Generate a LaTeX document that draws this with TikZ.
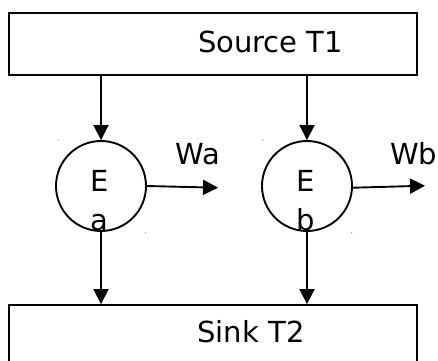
\documentclass[tikz,border=0pt]{standalone}
\usepackage{fontspec}
\setmainfont{DejaVu Sans}
\usetikzlibrary{arrows.meta}
\begin{document}
\begin{tikzpicture}[x=1pt,y=-1pt,
  line/.style={line width=1.9pt},
  arr/.style={line, -{Triangle[length=15pt,width=15pt]}},
  box/.style={draw, line width=1.9pt, rectangle, inner sep=0pt},
  engine/.style={draw, line width=1.9pt, circle, inner sep=0pt, minimum size=90pt},
  txt/.style={inner sep=0pt, font=\fontsize{29}{39}\selectfont},
  dot/.style={fill=gray!70, draw=none, circle, inner sep=0pt, minimum size=1.5pt}]
\path[use as bounding box] (0,0) rectangle (438,360);
\clip (0,0) rectangle (438,360);
% boxes
\node[box, minimum width=408pt, minimum height=62pt] (src) at (213,44) {};
\node[box, minimum width=408pt, minimum height=80pt] (snk) at (213,345) {};
\node[txt, anchor=base] (srct) at (270.5,52.7) {Source T1};
\node[txt, anchor=base] (snkt) at (251,342.7) {Sink T2};
% engines
\node[engine] (ca) at (101,186) {};
\node[engine] (cb) at (307,186) {};
\node[txt, anchor=north west, align=left] (ta) at (90.5,170) {E\\a};
\node[txt, anchor=north west, align=left] (tb) at (296.5,170) {E\\b};
% work outputs
\coordinate (wa) at (218,187.7);
\coordinate (wb) at (425,185.7);
\node[txt, anchor=base west] (wal) at (175,164) {Wa};
\node[txt, anchor=base west] (wbl) at (390,164) {Wb};
% connectors
\draw[arr] (ca.north |- src.south) -- (ca.north);
\draw[arr] (cb.north |- src.south) -- (cb.north);
\draw[arr] (ca.south) -- (ca.south |- snk.north);
\draw[arr] (cb.south) -- (cb.south |- snk.north);
\draw[arr] (ca.east) -- (wa);
\draw[arr] ([yshift=-1.7pt]cb.east) -- (wb);
% faint corner marks
\node[dot] (d1) at (58,140) {};
\node[dot] (d2) at (145.7,232.7) {};
\node[dot] (d3) at (263,140) {};
\node[dot] (d4) at (351.7,232.7) {};
\end{tikzpicture}
\end{document}
